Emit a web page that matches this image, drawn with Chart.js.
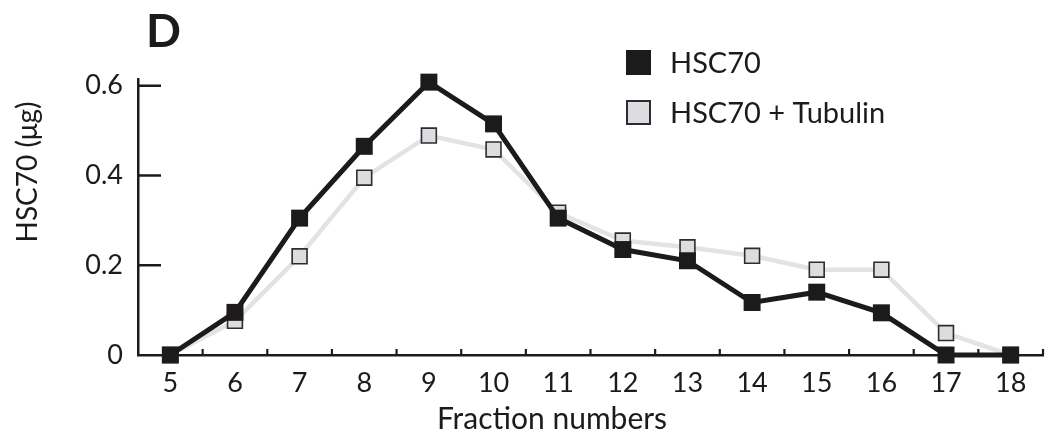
<!DOCTYPE html>
<html lang="en">
<head>
    <meta charset="UTF-8">
    <title>HSC70 fractions</title>
    <style>
        * { margin: 0; padding: 0; box-sizing: border-box; }
        body { background: #fff; width: 1046px; height: 436px; overflow: hidden; }
        .chart-box { position: relative; width: 1046px; height: 436px; }
        canvas { display: block; }
    </style>
</head>
<body>
    <div class="chart-box">
        <canvas id="fracChart" width="1046" height="436"></canvas>
    </div>

    <script src="https://cdn.jsdelivr.net/npm/chart.js"></script>
    <script>
        // Data
        const fractions = ['5', '6', '7', '8', '9', '10', '11', '12', '13', '14', '15', '16', '17', '18'];
        const hsc70 = [0, 0.095, 0.305, 0.465, 0.608, 0.515, 0.305, 0.235, 0.21, 0.117, 0.14, 0.094, 0, 0];
        const hsc70Tubulin = [0, 0.076, 0.22, 0.395, 0.489, 0.458, 0.317, 0.255, 0.24, 0.221, 0.19, 0.19, 0.049, 0];
        const yTicks = [0, 0.2, 0.4, 0.6];

        const FONT = 'Lato, "DejaVu Sans", sans-serif';
        const INK = '#1c1a1b';

        // inward tick marks, axis titles, panel letter and legend
        const decorations = {
            id: 'decorations',
            beforeDatasetsDraw(chart) {
                const { ctx, chartArea, scales: { x, y } } = chart;
                ctx.save();
                ctx.strokeStyle = INK;
                ctx.lineCap = 'butt';

                // y ticks pointing into the plot
                ctx.lineWidth = 2.5;
                yTicks.forEach(v => {
                    if (v === 0) return;
                    const py = y.getPixelForValue(v);
                    ctx.beginPath();
                    ctx.moveTo(chartArea.left, py);
                    ctx.lineTo(chartArea.left + 23, py);
                    ctx.stroke();
                });

                // x ticks sit between the categories
                const step = x.getPixelForValue(1) - x.getPixelForValue(0);
                ctx.lineWidth = 2.2;
                for (let i = 1; i <= fractions.length; i++) {
                    const px = x.getPixelForValue(i) - step / 2;
                    ctx.beginPath();
                    ctx.moveTo(px, chartArea.bottom);
                    ctx.lineTo(px, chartArea.bottom - 6);
                    ctx.stroke();
                }
                ctx.restore();
            },
            afterDraw(chart) {
                const { ctx } = chart;
                ctx.save();
                ctx.fillStyle = INK;

                // panel letter
                ctx.font = 'bold 46px ' + FONT;
                ctx.textAlign = 'left';
                ctx.textBaseline = 'alphabetic';
                ctx.fillText('D', 146, 47);

                // x title
                ctx.font = '30px ' + FONT;
                ctx.textAlign = 'center';
                ctx.fillText('Fraction numbers', 552, 429);

                // y title
                ctx.save();
                ctx.translate(37, 172);
                ctx.rotate(-Math.PI / 2);
                ctx.font = '28px ' + FONT;
                ctx.fillText('HSC70 (\u03bcg)', 0, 0);
                ctx.restore();

                // legend
                ctx.font = '29px ' + FONT;
                ctx.textAlign = 'left';
                chart.data.datasets.forEach((ds, i) => {
                    const top = 50 + i * 50;
                    ctx.fillStyle = ds.pointBackgroundColor;
                    ctx.fillRect(626, top, 25, 25);
                    if (ds.pointBorderWidth) {
                        ctx.strokeStyle = ds.pointBorderColor;
                        ctx.lineWidth = 2;
                        ctx.strokeRect(627, top + 1, 23, 23);
                    }
                    ctx.fillStyle = INK;
                    ctx.fillText(ds.label, 670, top + 23);
                });
                ctx.restore();
            }
        };

        const ctx = document.getElementById('fracChart').getContext('2d');
        new Chart(ctx, {
            type: 'line',
            data: {
                labels: fractions,
                datasets: [
                    {
                        label: 'HSC70',
                        data: hsc70,
                        borderColor: INK,
                        borderWidth: 5,
                        pointStyle: 'rect',
                        pointRadius: 12,
                        pointBackgroundColor: INK,
                        pointBorderColor: INK,
                        pointBorderWidth: 0,
                        tension: 0,
                        clip: false
                    },
                    {
                        label: 'HSC70 + Tubulin',
                        data: hsc70Tubulin,
                        borderColor: '#e3e3e3',
                        borderWidth: 4.5,
                        pointStyle: 'rect',
                        pointRadius: 10.5,
                        pointBackgroundColor: '#dcdde0',
                        pointBorderColor: '#2e2c2d',
                        pointBorderWidth: 1.6,
                        tension: 0,
                        clip: false
                    }
                ]
            },
            options: {
                responsive: false,
                animation: false,
                devicePixelRatio: 1,
                layout: {
                    autoPadding: false,
                    padding: { top: 79, right: 3, left: 0, bottom: 0 }
                },
                plugins: {
                    legend: { display: false },
                    tooltip: { enabled: false }
                },
                scales: {
                    x: {
                        type: 'category',
                        offset: true,
                        grid: { display: false, drawTicks: false, tickLength: 0 },
                        border: { display: true, color: INK, width: 2.5 },
                        ticks: {
                            color: INK,
                            font: { family: FONT, size: 27 },
                            padding: 12,
                            maxRotation: 0,
                            autoSkip: false
                        },
                        afterFit(scale) {
                            scale.height = 81;
                            scale.paddingLeft = 0;
                            scale.paddingRight = 0;
                        }
                    },
                    y: {
                        min: 0,
                        max: 0.615,
                        grid: { display: false, drawTicks: false, tickLength: 0 },
                        border: { display: true, color: INK, width: 2.5 },
                        ticks: {
                            color: INK,
                            font: { family: FONT, size: 27 },
                            padding: 15,
                            includeBounds: false,
                            stepSize: 0.2
                        },
                        afterBuildTicks(scale) {
                            scale.ticks = yTicks.map(v => ({ value: v }));
                        },
                        afterFit(scale) {
                            scale.width = 138;
                            scale.paddingTop = 0;
                            scale.paddingBottom = 0;
                        }
                    }
                }
            },
            plugins: [decorations]
        });
    </script>
</body>
</html>
